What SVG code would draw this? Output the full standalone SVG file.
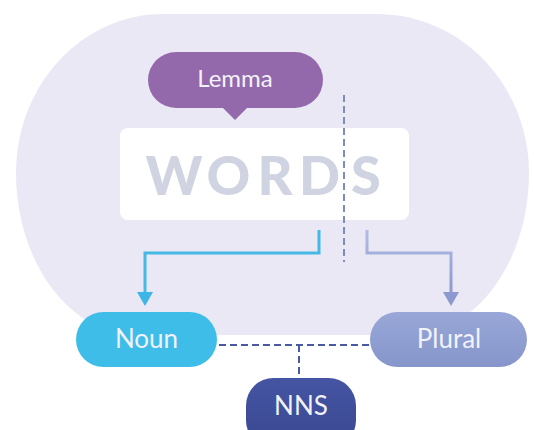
<svg xmlns="http://www.w3.org/2000/svg" width="534" height="430" viewBox="0 0 534 430">
<defs>
<linearGradient id="gPlural" x1="0" y1="0" x2="0" y2="1"><stop offset="0" stop-color="#98a7d7"/><stop offset="1" stop-color="#8696cb"/></linearGradient>
<linearGradient id="gNNS" x1="0" y1="0" x2="0" y2="1"><stop offset="0" stop-color="#4555a3"/><stop offset="1" stop-color="#3a4790"/></linearGradient>
<linearGradient id="gArrowP" x1="0" y1="0" x2="0" y2="1"><stop offset="0" stop-color="#b1bde4"/><stop offset="1" stop-color="#8b99cf"/></linearGradient>
<style>
.lbl{font-family:Lato,"Liberation Sans",sans-serif;font-size:26px;fill:#f2f2fa;text-anchor:middle}
.dash{fill:none;stroke-width:2;stroke-dasharray:7 4}
</style>
</defs>
<path d="M16 173 C16 85 82 14 163 14 H377 C461 14 529 85 529 173 C529 262 475 335 409 335 H136 C70 335 16 262 16 173 Z" fill="#ebe8f5"/>
<g id="lemma">
<rect x="148" y="52" width="175" height="56" rx="28" fill="#9469ab"/>
<path d="M222 107 L235 120 L248 107 Z" fill="#9469ab"/>
<text class="lbl" x="235" y="87" style="font-size:24px">Lemma</text>
</g>
<g id="words">
<rect x="120" y="128" width="289" height="92" rx="8" fill="#ffffff"/>
<text x="174 228.5 275 319.5 366" y="195" text-anchor="middle" font-family="Lato,'Liberation Sans',sans-serif" font-weight="900" font-size="54" fill="#d0d3e1">WORDS</text>
</g>
<g id="connectors">
<line class="dash" x1="344" y1="95" x2="344" y2="262" stroke="#7e8ac2"/>
<path d="M319 230 V253 H145 V294" fill="none" stroke="#45b9e6" stroke-width="3"/>
<path d="M137 292 L153 292 L145 306 Z" fill="#3db5e6"/>
<path d="M367 230 V253 H451 V294" fill="none" stroke="url(#gArrowP)" stroke-width="3"/>
<path d="M443 292 L459 292 L451 306 Z" fill="#8b99cf"/>
<line class="dash" x1="219" y1="345" x2="370" y2="345" stroke="#4a59a3"/>
<line class="dash" x1="299" y1="345" x2="299" y2="378" stroke="#4a59a3"/>
</g>
<g id="noun">
<rect x="76" y="312" width="141" height="55" rx="27.5" fill="#3ebde8"/>
<text class="lbl" x="146.5" y="348">Noun</text>
</g>
<g id="plural">
<rect x="370" y="312" width="157" height="55" rx="27.5" fill="url(#gPlural)"/>
<text class="lbl" x="449" y="348">Plural</text>
</g>
<g id="nns">
<rect x="246" y="378" width="110" height="70" rx="27.5" fill="url(#gNNS)"/>
<text class="lbl" x="301" y="415">NNS</text>
</g>
</svg>
